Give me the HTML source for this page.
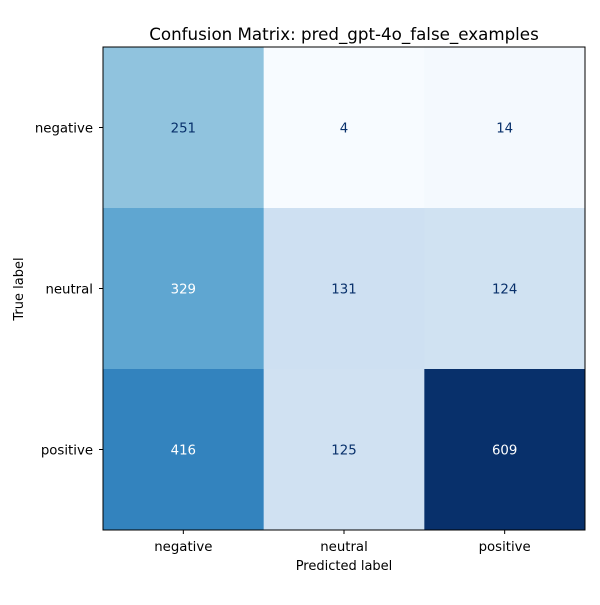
<!DOCTYPE html>
<html><head><meta charset="utf-8"><style>
body{margin:0;background:#fff;}
svg text{font-family:"DejaVu Sans","Liberation Sans",sans-serif;}
</style></head><body>
<svg id="chart" width="600" height="600" xmlns="http://www.w3.org/2000/svg">
<rect width="600" height="600" fill="#fff"/>
<text x="344" y="40" font-size="16.7" text-anchor="middle">Confusion Matrix: pred_gpt-4o_false_examples</text>
<g id="cells"></g>
<g id="axes"></g>
<text x="344" y="570" font-size="13" text-anchor="middle">Predicted label</text>
<text transform="translate(23,289) rotate(-90)" font-size="13" text-anchor="middle">True label</text>
</svg>
<script>
const labels = ["negative","neutral","positive"];
const row0 = [251,4,14];
const row1 = [329,131,124];
const row2 = [416,125,609];
const matrix = [row0,row1,row2];

const X0=103, Y0=47, W=482, H=483;
const n=labels.length, cw=W/n, ch=H/n;
const stops=["#f7fbff","#deebf7","#c6dbef","#9ecae1","#6baed6","#4292c6","#2171b5","#08519c","#08306b"];
function hex(h){return [1,3,5].map(i=>parseInt(h.substr(i,2),16));}
function blues(t){t=Math.max(0,Math.min(1,t));const p=t*(stops.length-1);const i=Math.min(Math.floor(p),stops.length-2);const f=p-i;const a=hex(stops[i]),b=hex(stops[i+1]);return "rgb("+a.map((v,k)=>Math.round(v+(b[k]-v)*f)).join(",")+")";}
const all=matrix.flat(), mn=Math.min(...all), mx=Math.max(...all), thr=(mn+mx)/2;
const xs=j=>X0+j*cw, ys=i=>Y0+i*ch;
const NS="http://www.w3.org/2000/svg";
const cells=document.getElementById("cells"), axes=document.getElementById("axes");
matrix.forEach((row,i)=>row.forEach((v,j)=>{
  const r=document.createElementNS(NS,"rect");
  r.setAttribute("x",xs(j));r.setAttribute("y",ys(i));r.setAttribute("width",cw+0.5);r.setAttribute("height",ch+0.5);
  r.setAttribute("fill",blues((v-mn)/(mx-mn)));
  
  
  cells.appendChild(r);
  const t=document.createElementNS(NS,"text");
  t.setAttribute("x",xs(j)+cw/2);t.setAttribute("y",ys(i)+ch/2+5);t.setAttribute("font-size","13.3");t.setAttribute("text-anchor","middle");
  t.setAttribute("fill",v>thr?"#fff":"#08306b");t.textContent=v;
  
  
  cells.appendChild(t);
}));
const fr=document.createElementNS(NS,"rect");
fr.setAttribute("x",X0);fr.setAttribute("y",Y0);fr.setAttribute("width",W);fr.setAttribute("height",H);fr.setAttribute("fill","none");fr.setAttribute("stroke","#000");fr.setAttribute("stroke-width","1");


axes.appendChild(fr);
labels.forEach((l,k)=>{
  const cx=xs(k)+cw/2, cy=ys(k)+ch/2;
  const tx=document.createElementNS(NS,"line");
  tx.setAttribute("x1",cx);tx.setAttribute("x2",cx);tx.setAttribute("y1",Y0+H);tx.setAttribute("y2",Y0+H+4);tx.setAttribute("stroke","#000");
  axes.appendChild(tx);
  const lx=document.createElementNS(NS,"text");
  lx.setAttribute("x",cx);lx.setAttribute("y",Y0+H+21);lx.setAttribute("font-size","13.3");lx.setAttribute("text-anchor","middle");lx.textContent=l;
  
  
  axes.appendChild(lx);
  const ty=document.createElementNS(NS,"line");
  ty.setAttribute("x1",X0-4);ty.setAttribute("x2",X0);ty.setAttribute("y1",cy);ty.setAttribute("y2",cy);ty.setAttribute("stroke","#000");
  axes.appendChild(ty);
  const ly=document.createElementNS(NS,"text");
  ly.setAttribute("x",X0-10);ly.setAttribute("y",cy+5);ly.setAttribute("font-size","13.3");ly.setAttribute("text-anchor","end");ly.textContent=l;
  
  
  axes.appendChild(ly);
});
</script>
</body></html>
